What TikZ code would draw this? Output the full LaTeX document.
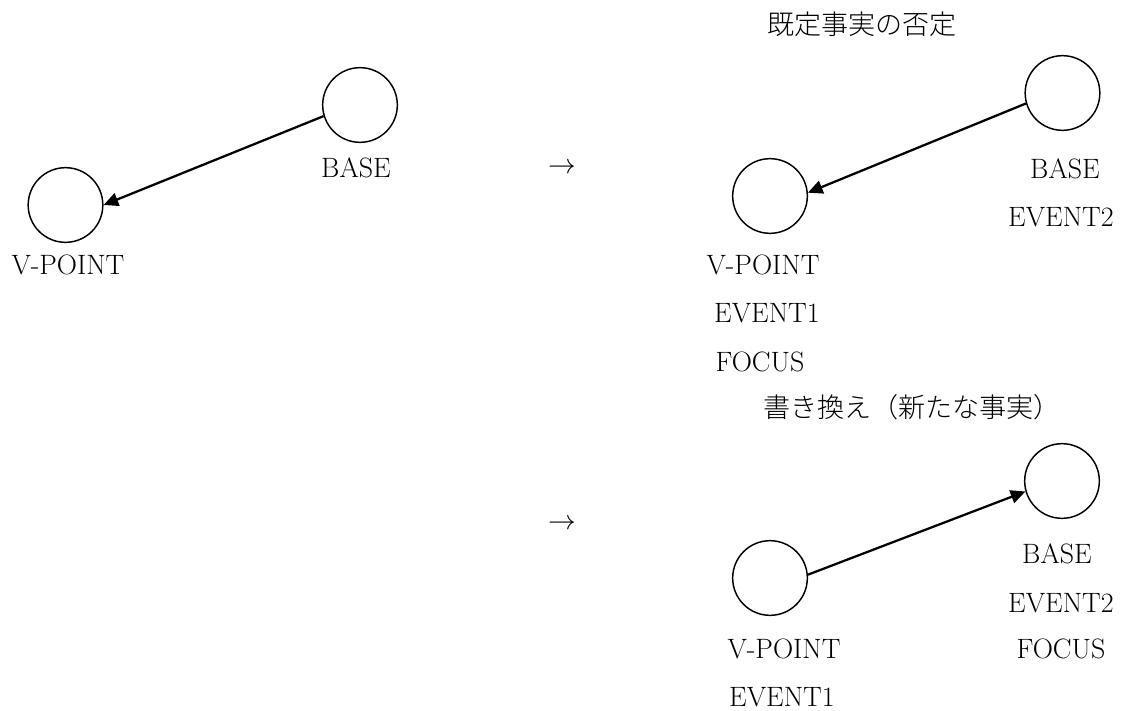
\documentclass[tikz,border=0pt]{standalone}
\usepackage{fontspec}
\newfontfamily\jafont{Noto Sans CJK JP Light}
\usetikzlibrary{arrows.meta}
\begin{document}
\begin{tikzpicture}[x=0.75pt,y=-0.75pt,
  every node/.style={font=\fontsize{21}{25}\selectfont},
  state/.style={circle,draw,line width=1.1pt,inner sep=0pt,minimum size=56pt},
  lbl/.style={inner sep=0pt},
  jtitle/.style={inner sep=0pt,font=\jafont\fontsize{20.3}{24}\selectfont},
  link/.style={line width=1.7pt,-{Triangle[length=11pt,width=10pt]}}]
\useasboundingbox (0,0) rectangle (1127,710);

% initial configuration
\node[state] (v1) at (65.5,205) {};
\node[state] (b1) at (360,105) {};
\node[lbl] (v1a) at (68,265) {V-POINT};
\node[lbl] (b1a) at (356,168) {BASE};
\draw[link] (b1.197) -- (v1.east);

% transition arrows
\node[lbl] (t1) at (562,168) {$\rightarrow$};
\node[lbl] (t2) at (562,524) {$\rightarrow$};

% negation of the established fact
\node[jtitle] (h2) at (862,24) {既定事実の否定};
\node[state] (v2) at (770,196) {};
\node[state] (b2) at (1062.5,93) {};
\node[lbl] (b2a) at (1065,169) {BASE};
\node[lbl] (b2b) at (1061,217) {EVENT2};
\node[lbl] (v2a) at (763,265) {V-POINT};
\node[lbl] (v2b) at (767,313) {EVENT1};
\node[lbl] (v2c) at (760,362) {FOCUS};
\draw[link] (b2.196) -- (v2.5);

% rewriting (new fact)
\node[jtitle] (h3) at (912,407) {書き換え（新たな事実）};
\node[state] (v3) at (770,578) {};
\node[state] (b3) at (1062,481) {};
\node[lbl] (b3a) at (1057,554) {BASE};
\node[lbl] (b3b) at (1061,603) {EVENT2};
\node[lbl] (b3c) at (1061,649) {FOCUS};
\node[lbl] (v3a) at (784,649) {V-POINT};
\node[lbl] (v3b) at (782,697) {EVENT1};
\draw[link] (v3.5) -- (b3.196);
\end{tikzpicture}
\end{document}
